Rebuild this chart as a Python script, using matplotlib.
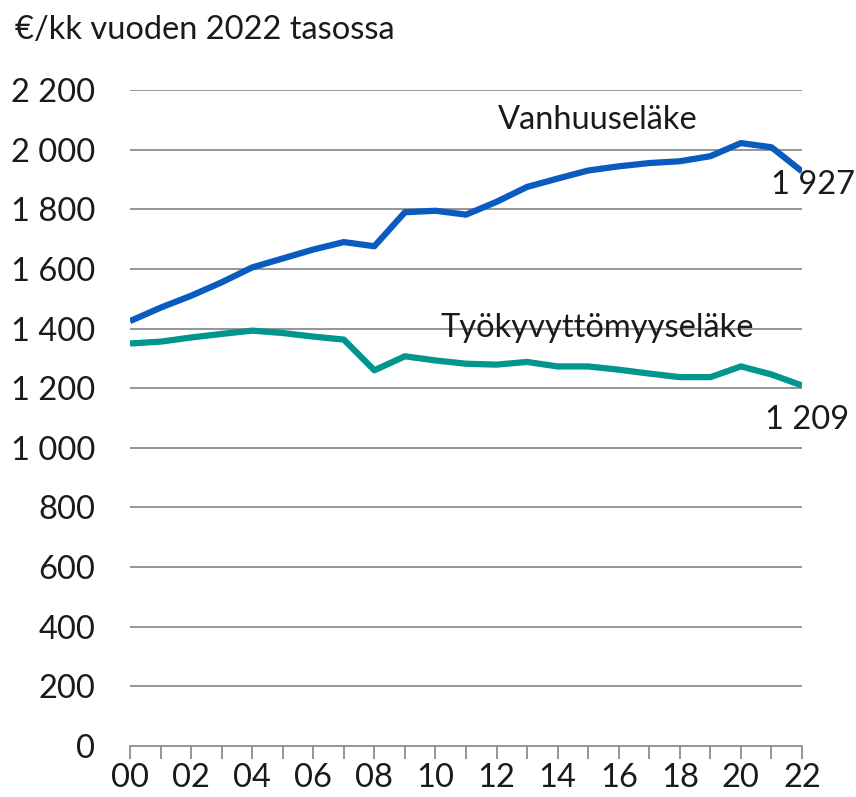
#!/usr/bin/env python3
"""
Keskimääräinen eläke, €/kk vuoden 2022 tasossa
Vanhuuseläke vs. työkyvyttömyyseläke 2000-2022
"""

import matplotlib.pyplot as plt

# -----------------------------
# DATA
# -----------------------------
years = list(range(0, 23))
year_labels = [f"{y:02d}" for y in range(0, 23, 2)]

vanhuus = [1425, 1470, 1510, 1555, 1605, 1635, 1665, 1690, 1676, 1790,
           1795, 1782, 1825, 1875, 1903, 1930, 1944, 1955, 1961, 1978,
           2022, 2008, 1927]
tyokyvyt = [1350, 1356, 1370, 1382, 1393, 1385, 1373, 1363, 1260, 1307,
            1293, 1282, 1279, 1288, 1273, 1273, 1262, 1249, 1237, 1237,
            1273, 1246, 1209]

yticks = list(range(0, 2201, 200))
ytick_labels = ["0" if v == 0 else f"{v:,}".replace(",", " ") for v in yticks]

BLUE = "#0a5bbf"
TEAL = "#00968f"
GRID = "#8c8c8c"

plt.rcParams["font.family"] = ["Lato", "DejaVu Sans"]
FS = 23.5

# -----------------------------
# PLOT
# -----------------------------
fig = plt.figure(figsize=(8.56, 7.97), dpi=100)
ax = fig.add_axes([130 / 856, 1 - 746 / 797, 672 / 856, 656 / 797])

ax.plot(years, vanhuus, color=BLUE, linewidth=4.5, solid_capstyle="butt",
        zorder=3)
ax.plot(years, tyokyvyt, color=TEAL, linewidth=4.5, solid_capstyle="butt",
        zorder=3)

ax.set_xlim(0, 22)
ax.set_ylim(0, 2200)
ax.set_yticks(yticks)
ax.set_yticklabels(ytick_labels, fontsize=FS, color="#1a1a1a")
ax.set_xticks(years)
ax.set_xticklabels([f"{y:02d}" if y % 2 == 0 else "" for y in years],
                   fontsize=FS, color="#1a1a1a")

for v in yticks[1:]:
    ax.axhline(v, color=GRID, linewidth=1.3, zorder=1)

for s in ["left", "right", "top"]:
    ax.spines[s].set_visible(False)
ax.spines["bottom"].set_color(GRID)
ax.spines["bottom"].set_linewidth(1.3)

ax.tick_params(axis="y", length=0, pad=25)
ax.tick_params(axis="x", direction="out", length=9, width=1.3,
               color=GRID, pad=3)

# series labels
ax.text(15.3, 2099, "Vanhuuseläke", fontsize=FS, ha="center", va="center",
        color="#1a1a1a")
ax.text(15.3, 1402, "Työkyvyttömyyseläke", fontsize=FS, ha="center",
        va="center", color="#1a1a1a")
ax.text(22.35, 1881, "1 927", fontsize=FS, ha="center", va="center",
        color="#1a1a1a", clip_on=False)
ax.text(22.15, 1093, "1 209", fontsize=FS, ha="center", va="center",
        color="#1a1a1a", clip_on=False)

fig.text(15 / 856, 1 - 30 / 797, "€/kk vuoden 2022 tasossa", fontsize=FS,
         ha="left", va="center", color="#1a1a1a")

fig.savefig("out.png", dpi=100)
